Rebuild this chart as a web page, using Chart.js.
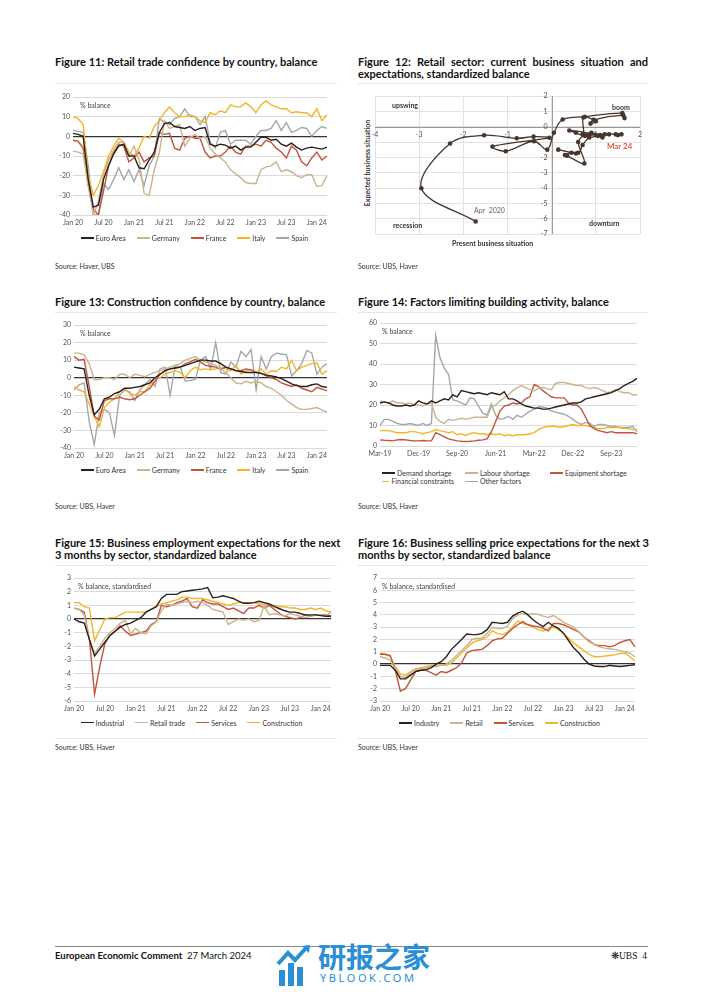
<!DOCTYPE html>
<html>
<head>
<meta charset="utf-8">
<script src="https://cdn.jsdelivr.net/npm/chart.js@4.4.1/dist/chart.umd.min.js"></script>
<style>
  body { margin: 0; background: #fff; }
  #page { position: relative; width: 702px; height: 992px; overflow: hidden; font-family: Lato, 'Open Sans', sans-serif; color: #222; }
  canvas { position: absolute; }
  .title { position: absolute; font-weight: 700; white-space: nowrap; color: #111; line-height: 12.6px; font-size: 10px; }
  .title .j { text-align: justify; text-align-last: justify; }
  .sep { position: absolute; height: 1px; background: #e6e6e6; }
  .src { position: absolute; font-size: 7px; color: #333; line-height: 8px; }
  .note { position: absolute; font-size: 7px; color: #444; line-height: 8px; white-space: nowrap; }
  .q { position: absolute; font-size: 7px; font-weight: 700; color: #333; line-height: 8px; white-space: nowrap; }
  .leg { position: absolute; width: 400px; display: flex; justify-content: center; font-size: 7px; color: #333; line-height: 8px; white-space: nowrap; }
  .leg span, .leg4 span { display: flex; align-items: center; margin-right: 11px; }
  .leg i, .leg4 i { display: inline-block; width: 13px; height: 1.6px; margin-right: 2px; }
  .leg4 { position: absolute; display: grid; grid-template-columns: 83px 85px auto; font-size: 7px; color: #333; line-height: 8.4px; white-space: nowrap; }
</style>
</head>
<body>
<div id="page">
  <!-- titles -->
  <div class="title" id="t11" style="left:55px;top:55.5px">Figure 11: Retail trade confidence by country, balance</div>
  <div class="title" style="left:358px;top:55.5px;width:290px">
    <div class="j">Figure 12: Retail sector: current business situation and</div>
    <div>expectations, standardized balance</div>
  </div>
  <div class="title" style="left:55px;top:296.4px">Figure 13: Construction confidence by country, balance</div>
  <div class="title" style="left:358px;top:296.4px">Figure 14: Factors limiting building activity, balance</div>
  <div class="title" style="left:55px;top:536.5px">
    <div>Figure 15: Business employment expectations for the next</div>
    <div>3 months by sector, standardized balance</div>
  </div>
  <div class="title" style="left:358px;top:536.5px">
    <div>Figure 16: Business selling price expectations for the next 3</div>
    <div>months by sector, standardized balance</div>
  </div>

  <div class="sep" style="left:55px;top:83px;width:282px"></div>
  <div class="sep" style="left:358px;top:83px;width:290px"></div>
  <div class="sep" style="left:55px;top:312px;width:282px"></div>
  <div class="sep" style="left:358px;top:312px;width:290px"></div>
  <div class="sep" style="left:55px;top:565px;width:282px"></div>
  <div class="sep" style="left:358px;top:565px;width:290px"></div>
  <div class="sep" style="left:55px;top:738px;width:282px"></div>
  <div class="sep" style="left:358px;top:738px;width:290px"></div>

  <canvas id="c11"></canvas>
  <canvas id="c12"></canvas>
  <canvas id="c13"></canvas>
  <canvas id="c14"></canvas>
  <canvas id="c15"></canvas>
  <canvas id="c16"></canvas>

  <div class="note" style="left:80px;top:101px">% balance</div>
  <div class="note" style="left:80px;top:329px">% balance</div>
  <div class="note" style="left:382px;top:327px">% balance</div>
  <div class="note" style="left:78px;top:582px">% balance, standardised</div>
  <div class="note" style="left:382px;top:582px">% balance, standardised</div>

  <!-- figure 12 annotations -->
  <div class="q" style="left:392px;top:101px">upswing</div>
  <div class="q" style="left:612px;top:103px">boom</div>
  <div class="q" style="left:393px;top:221px">recession</div>
  <div class="q" style="left:589px;top:219px">downturn</div>
  <div class="note" style="left:474px;top:206px;color:#666">Apr &nbsp;2020</div>
  <div class="note" style="left:607px;top:142px;color:#e2281c;font-size:8px;line-height:9px">Mar 24</div>
  <div class="q" style="left:452px;top:239px">Present business situation</div>
  <div class="q" style="left:367px;top:163px;transform:translate(-50%,-50%) rotate(-90deg)">Expected business situation</div>

  <div class="leg" id="l11" style="left:0px;top:234px"></div>
  <div class="leg" id="l13" style="left:0px;top:466px"></div>
  <div class="leg4" id="l14" style="left:382px;top:469px"></div>
  <div class="leg" id="l15" style="left:-3px;top:718.5px"></div>
  <div class="leg" id="l16" style="left:305px;top:719px"></div>

  <div class="src" style="left:55px;top:262px">Source: Haver, UBS</div>
  <div class="src" style="left:358px;top:262px">Source: UBS, Haver</div>
  <div class="src" style="left:55px;top:502px">Source: UBS, Haver</div>
  <div class="src" style="left:358px;top:502px">Source: UBS, Haver</div>
  <div class="src" style="left:55px;top:743px">Source: UBS, Haver</div>
  <div class="src" style="left:358px;top:743px">Source: UBS, Haver</div>

  <!-- footer -->
  <div style="position:absolute;left:55px;top:946px;width:593px;height:1px;background:#8a8a8a"></div>
  <div style="position:absolute;left:55px;top:951px;font-size:9.5px;line-height:10px;white-space:nowrap;color:#111"><b>European Economic Comment</b>&nbsp;&nbsp;27 March 2024</div>
  <div style="position:absolute;left:611px;top:951px;font-size:9.5px;line-height:10px;white-space:nowrap;color:#111;font-family:'Liberation Serif',serif">&#10059;UBS&nbsp;&nbsp;4</div>
  <svg style="position:absolute;left:276px;top:944px" width="38" height="42" viewBox="0 0 38 42">
    <path d="M2 20 L12 9 L19 16 L31 3" stroke="#2a8fd4" stroke-width="4" fill="none"/>
    <path d="M26 2 L34 1 L33 9 Z" fill="#2a8fd4"/>
    <rect x="3" y="26" width="6" height="16" fill="#2a8fd4"/>
    <rect x="12" y="19" width="6" height="23" fill="#2a8fd4"/>
    <rect x="21" y="23" width="6" height="19" fill="#2a8fd4"/>
  </svg>
  <div style="position:absolute;left:318px;top:940px;font-size:28px;line-height:32px;font-weight:700;color:#2a8fd4;font-family:'Noto Sans CJK SC',sans-serif;white-space:nowrap">研报之家</div>
  <div style="position:absolute;left:320px;top:972px;font-size:11px;line-height:12px;letter-spacing:2.6px;color:#2a8fd4;font-family:'Noto Sans',sans-serif;white-space:nowrap">YBLOOK.COM</div>
</div>

<script>
// ---- colours
const C_BLACK = '#2a211e';
const C_TAN = '#c9b48f';
const C_RED = '#c2553a';
const C_GOLD = '#f2b52a';
const C_GREY = '#a4a7aa';

// ---- tick labels
const halfYears = ['Jan 20', 'Jul 20', 'Jan 21', 'Jul 21', 'Jan 22', 'Jul 22', 'Jan 23', 'Jul 23', 'Jan 24'];
const ticks14 = ['Mar-19', 'Dec-19', 'Sep-20', 'Jun-21', 'Mar-22', 'Dec-22', 'Sep-23'];

// ---- Figure 11: retail trade confidence (Jan 20 - Mar 24)
const ea11 = [1.5,1,0,-22,-36,-35,-22,-15,-9,-5, -4,-10,-10,-16,-16.5,-12,-8,2,6.5,7, 5,4.5,4,5,3,4,4.5,-4,-5,-4, -4.5,-6,-5,-7,-5.5,-5.5,-3,-0.5,-0.5,-2, -1.5,-4,-5,-3.5,-5.5,-7,-6,-5.5,-6,-6.5, -5.5];
const de11 = [-7.5,-8,-9,-25,-40,-33,-20,-12,-7,-3, -3,-10,-5,-12,-29,-30,-17,-8,8,4, 5,6,-5,-1,1,-1,0,-6,-9,-11, -13,-17,-19,-21,-23.5,-24,-24,-17,-15.5,-15, -13,-18,-17,-18,-20,-21,-19.5,-19.5,-25.5,-25, -20];
const fr11 = [-2,-2.5,-6,-25,-37,-40,-28,-15,-8,-4, -5,-13,-11,-8,-13,-11,-10,2,1,1.5, -6,-7,-1,0,-1,-1,-8,-11,-10,-10, -8,-5,-8,-9,-5,-5,-4,-5,-2,-3, -6,-8,-11,-5,-7,-13,-15,-11,-8,-12, -10];
const it11 = [10,9,6,-20,-30,-25,-18,-10,-5,-1, -3,-8,-10,-6,0,-1,5,8,12,15, 12,10,10,11,10,8,7,12,11,13, 12,16,15,15,17,15,12,16,18,16, 15,14,14,12,12.5,12,12,10,14,8, 11];
const es11 = [3,2.5,2,-15,-40,-40,-24,-27,-22,-16, -22,-17,-23,-17,-25,-15,-10,9,7,6, 9,10,14,10,10,6,10,-3,-6,2, 3,-4,-2,-2,-2,-4,0,3,3,4, 8,3,7,2,3,4.5,4,0,3,5, 4];

// ---- Figure 12: retail present vs expected situation (Apr 2020 - Mar 24)
const pres12 = [-1.72,-2.95,-2.30,-1.53,-0.79,-0.41,-0.05,-1.34,-1.04,-0.4, -0.1,0.05,0.25,0.75,1.6,1.65,1.62,0.95,0.88,1.0, 0.72,0.72,0.6,0.74,0.35,0.3,0.45,0.55,0.15,0.6, 0.7,0.85,0.4,0.55,0.75,0.9,1.0,0.7,0.85,1.1, 1.3,1.05,0.9,1.15,1.2,1.45,1.5,1.58];
const exp12 = [-6.18,-4.02,-1.10,-0.56,-0.76,-0.65,-0.72,-1.30,-1.60,-0.95, -1.5,-0.4,0.47,0.65,0.88,0.56,0.75,0.45,0.2,0.35, 0.6,-0.5,-1.0,-2.4,-1.9,-1.85,-1.7,-1.75,-1.5,-1.7, -1.2,-0.5,-0.25,-0.4,-0.6,-0.45,-0.55,-0.5,-0.7,-0.55, -0.5,-0.6,-0.4,-0.7,-0.5,-0.5,-0.55,-0.5];
const xTicks12 = [-4, -3, -2, -1, 1, 2];
const yTicks12 = [2, 1, 0, -2, -3, -4, -5, -6, -7];

// ---- Figure 13: construction confidence (Jan 20 - Mar 24)
const ea13 = [6,5.5,5,-10,-21,-18,-12,-11,-9,-8, -6,-6,-5.5,-5,-4,-3,0,2,4,5, 5.5,6,7,8,9,10,10,9.5,9.5,8, 6,5,4,3.5,3,3,3,2.5,1.5,1, 0.5,-0.5,-2,-3.5,-4.5,-5,-5,-4,-3.5,-5, -5.5];
const de13 = [14,14,13,8,-1,-1,0,0,-1,2, 2,0,2,1.5,0.5,2,3,4,5,6, 7,8,10,11,12,10,9,8,7,5, 3,0,-3,-3.5,-2,-3,-2,-3,-5,-6, -8,-10,-13,-15,-17,-18,-18,-17.5,-17,-18.5, -19.5];
const fr13 = [12,10,10.5,-5,-22,-24,-13,-12,-12,-11, -12,-12.5,-12,-10,-8,-6,-2,2,4,5, 5.5,6,8,9,10.5,9,7,6.5,6,5, 6,5,4,4,5,4.5,3,2.5,1,0, -1,-3,-4,-5,-4,-6,-7,-8,-5.5,-6.5, -7.5];
const it13 = [-5,-7,-8,-15,-22,-28,-17,-14,-12,-8, -6,-9,-10,-8,-8,-4,0,0,2,3, 4,3,0,4,6,4.5,5,4.5,5,5.5, 5,4,7,2,4,4.5,3,5,2,4, 3.5,6,5,10,4,6,7,8,8.5,2, 4];
const es13 = [-7,-4,-3,-25,-38,-20,-18,-20,-33,-10, -7,-8,-13,-7,-4,-1,-5,5,6,-10, 7,6,-2,-1.5,-1,10,12,5,20,3, 2,9,6,15,12,16,-7,12,5,12, 14,13.5,13,1,4,8,15.5,14,2,6, 8];

// ---- Figure 14: factors limiting building activity (Mar-19 - Mar-24)
const dem14 = [21,21.5,21,20,19.5,19.5,20,19.5,20,22, 21,20.5,22,21,22,23,22.5,25,24,27, 26.5,26,25.5,26,25.5,25,26,25.5,25,26.5, 23,23,22,20.5,19.5,19,18.5,18.5,18,18, 18.5,19,19.5,20,20.5,21,21,21.5,23,23.5, 24,24.5,25,25.5,26,27,28,29.5,30.5,31.5, 33];
const lab14 = [22,21.5,21,22,21,21,20.5,21,20,20, 19.5,20.5,21,14,12,11,13,12.5,13,13.5, 13,13.5,14,14,14,14,19,20,22,23.5, 25,27,28.5,29.5,28.5,27.5,27,28,28.5,28, 27.5,30.5,31,31,30.5,30,29.5,29.5,28.5,28, 28.5,28,27,26,26.5,27.5,26.5,26,26,25, 25];
const eqp14 = [3,2.8,2.7,2.5,3,3.2,3,2.7,2.5,2.5, 2.7,2.5,2.5,6.5,5.5,4.5,3.5,3,2.5,2.3, 2.2,2.3,2.5,2.8,3,3.5,7,12,17,19.5, 20,21,20.5,21,23,24,30,29,27,25.5, 24,23.5,23.5,23.5,21,20,20,18,14,10, 8.5,7.5,7,6.5,7,6.5,6.5,6.5,6.5,6.5, 6];
const fin14 = [7.5,7.5,7.5,7,6.5,6.5,6.5,7,7,6.5, 6,6.5,7,8,7.5,7,6.5,7,5.5,6, 5,6,6.5,6,6,5.5,6,5.5,6,5, 5.5,5,5.5,5.5,5.5,6,6.5,8,9,9.5, 9.5,9.5,9,9.5,10,10.5,10,10,10,9.5, 9,8.5,8.5,9,9,9,9,8.5,8.5,8, 8];
const oth14 = [10,13,13,12,11,10.5,10.5,11,10.5,10, 11,10,11,54,43,38,35,22.5,22,21, 20,23.5,23,19.5,16,15,20.5,15,13,13.5, 14.5,13,15,14,15.5,17,18,19,19,18.5, 17,16.5,16,15.5,14.5,13,11.5,10.5,11.5,11, 9.5,10.5,10.5,10,9.5,9.5,9,9,9,9.5, 7];

// ---- Figure 15: employment expectations (Jan 20 - Mar 24)
const ind15 = [0,-0.2,-0.3,-1.5,-2.7,-2.2,-1.7,-1.2,-0.9,-0.6, -0.4,-0.3,-0.1,0.1,0.5,0.7,0.9,1.5,1.8,1.8, 1.8,2.0,2.05,2.1,2.15,2.2,2.3,1.55,1.6,1.7, 1.6,1.5,1.3,1.15,1.15,1.2,1.3,1.2,1.1,0.9, 0.75,0.6,0.5,0.5,0.4,0.3,0.3,0.3,0.25,0.2, 0.2];
const ret15 = [0.8,0.7,0.3,-1.5,-2.5,-2,-1.4,-1.0,-0.7,-0.3, -0.1,-1.1,-0.7,-1.0,-1.1,-0.5,-0.2,0.6,1.1,1.0, 1.1,1.2,1.3,1.2,1.3,1.2,1.0,0.7,0.6,0.5, -0.4,-0.2,0.0,-0.1,0.0,-0.2,-0.1,1.0,0.3,0.4, 0.3,0.2,0.4,0.3,0.2,0.1,0.2,0.3,0.3,0.2, 0.5];
const ser15 = [0.8,0.7,0.5,-1.5,-5.5,-3.5,-1.8,-1.2,-0.9,-0.5, -0.9,-1.2,-1.1,-1.0,-0.9,-0.4,-0.2,1.0,0.9,1.0, 1.2,1.3,1.5,0.9,0.8,1.4,1.2,1.1,1.1,0.9, 0.7,0.8,0.6,0.4,0.8,0.8,1.0,0.8,1.0,0.7, 0.4,0.2,0.1,0.0,0.1,0.3,0.2,0.3,0.3,0.3, 0.2];
const con15 = [1.2,1.2,0.9,0.8,-1.6,-0.8,0.0,0.1,0.1,0.3, 0.5,0.5,0.5,0.5,0.5,0.7,0.9,1.1,1.2,1.3, 1.4,1.6,1.6,1.5,1.5,1.5,1.4,1.3,1.2,1.1, 1.0,1.1,1.2,1.2,1.2,1.2,1.1,1.1,1.0,1.0, 0.9,0.9,0.8,0.8,0.7,0.7,0.8,0.7,0.8,0.6, 0.5];

// ---- Figure 16: selling price expectations (Jan 20 - Mar 24)
const ind16 = [-0.1,-0.1,-0.1,-0.5,-1.2,-1.2,-0.9,-0.6,-0.5,-0.45, -0.3,0.0,0.2,0.6,1.2,1.6,2.0,2.45,2.4,2.4, 2.5,2.8,3.4,3.35,3.3,3.4,3.9,4.15,4.3,4.0, 3.6,3.3,3.05,3.4,3.1,2.9,2.5,1.9,1.3,0.9, 0.4,0.0,-0.15,-0.2,-0.2,-0.1,-0.15,-0.2,-0.15,-0.1, -0.05];
const ret16 = [0.6,0.5,0.3,-0.4,-1.0,-1.1,-0.7,-0.4,-0.4,-0.3, -0.2,-0.2,-0.1,0.0,0.3,0.7,1.1,1.5,2.0,2.1, 2.1,2.5,3.0,2.9,2.9,3.1,3.7,4.0,4.1,4.05, 4.1,4.05,3.9,3.8,3.95,3.7,3.4,3.2,3.0,2.6, 2.2,1.8,1.6,1.4,1.3,1.25,1.2,1.1,1.0,0.9, 0.6];
const ser16 = [0.8,0.8,0.7,-0.5,-2.2,-2.0,-1.3,-0.6,-0.5,-0.5, -0.7,-0.9,-0.6,-0.7,-0.5,-0.3,0.1,0.9,1.1,1.15, 1.2,1.5,1.9,2.05,2.1,2.5,2.9,3.2,3.45,3.2, 3.1,3.05,2.9,2.7,3.3,3.3,3.2,3.0,2.8,2.6, 2.2,1.9,1.6,1.5,1.5,1.4,1.5,1.75,1.9,2.0, 1.4];
const con16 = [0.9,0.8,0.6,-0.2,-0.8,-0.9,-0.6,-0.4,-0.3,-0.2, -0.1,-0.1,-0.1,-0.1,0.1,0.5,0.9,1.3,1.7,1.9, 2.0,2.2,2.7,2.5,2.4,2.6,3.0,3.5,3.3,3.2, 3.0,2.8,2.7,2.9,3.0,2.8,2.5,2.1,1.7,1.4, 1.1,0.8,0.6,0.6,0.65,0.7,0.75,0.85,0.9,0.6, 0.25];

const tickFont = { family: 'Lato', size: 7 };
const tickColor = '#555';

// fit title font so figure 11 title spans the same width as the original
(function fitTitles() {
  const t = document.getElementById('t11');
  t.style.display = 'inline-block';
  const w = t.getBoundingClientRect().width;
  const fs = 10 * 263 / w;
  document.querySelectorAll('.title').forEach(e => { e.style.fontSize = fs + 'px'; });
})();

function placeCanvas(cv, plot, pad) {
  const W = Math.round(plot.r - plot.l + pad.l + pad.r);
  const H = Math.round(plot.b - plot.t + pad.t + pad.b);
  cv.width = W; cv.height = H;
  cv.style.width = W + 'px'; cv.style.height = H + 'px';
  cv.style.left = (plot.l - pad.l) + 'px';
  cv.style.top = (plot.t - pad.t) + 'px';
}

function lineChart(id, plot, series, min, max, step, tickLabels, every, zeroDark) {
  const pad = { l: 26, t: 8, r: 8, b: 18 };
  const cv = document.getElementById(id);
  placeCanvas(cv, plot, pad);
  const n = series[0].data.length;
  return new Chart(cv, {
    type: 'line',
    data: {
      labels: Array.from({ length: n }, (_, i) => i),
      datasets: series.map(s => ({
        label: s.name, data: s.data, borderColor: s.color, borderWidth: 1.4,
        pointRadius: 0, tension: 0, fill: false
      }))
    },
    options: {
      responsive: false, animation: false, devicePixelRatio: 1,
      layout: { padding: { left: 0, right: pad.r, top: pad.t, bottom: 0 } },
      plugins: { legend: { display: false }, tooltip: { enabled: false } },
      scales: {
        x: {
          offset: false,
          grid: { display: false, drawTicks: false },
          border: { display: false },
          ticks: {
            autoSkip: false, maxRotation: 0, padding: 4, color: tickColor, font: tickFont,
            callback: (v, i) => (i % every === 0 ? tickLabels[i / every] : null)
          },
          afterFit: s => { s.height = pad.b; }
        },
        y: {
          min, max,
          grid: {
            drawTicks: false,
            color: c => (zeroDark && c.tick.value === 0 ? '#333' : '#d6d6d6'),
            lineWidth: c => (zeroDark && c.tick.value === 0 ? 1.3 : 0.9)
          },
          border: { display: false },
          ticks: { stepSize: step, padding: 3, color: tickColor, font: tickFont },
          afterFit: s => { s.width = pad.l; }
        }
      }
    }
  });
}

function legend(id, series) {
  document.getElementById(id).innerHTML = series
    .map(s => `<span><i style="background:${s.color}"></i>${s.name}</span>`).join('');
}

// Figure 11
const s11 = [
  { name: 'Euro Area', data: ea11, color: C_BLACK },
  { name: 'Germany', data: de11, color: C_TAN },
  { name: 'France', data: fr11, color: C_RED },
  { name: 'Italy', data: it11, color: C_GOLD },
  { name: 'Spain', data: es11, color: C_GREY }
];
lineChart('c11', { l: 73, r: 327, t: 97, b: 215 }, s11, -40, 20, 10, halfYears, 6, true);
legend('l11', s11);

// Figure 13
const s13 = [
  { name: 'Euro Area', data: ea13, color: C_BLACK },
  { name: 'Germany', data: de13, color: C_TAN },
  { name: 'France', data: fr13, color: C_RED },
  { name: 'Italy', data: it13, color: C_GOLD },
  { name: 'Spain', data: es13, color: C_GREY }
];
lineChart('c13', { l: 74, r: 327, t: 325, b: 448 }, s13, -40, 30, 10, halfYears, 6, true);
legend('l13', s13);

// Figure 14
const s14 = [
  { name: 'Demand shortage', data: dem14, color: C_BLACK },
  { name: 'Labour shortage', data: lab14, color: C_TAN },
  { name: 'Equipment shortage', data: eqp14, color: C_RED },
  { name: 'Financial constraints', data: fin14, color: C_GOLD },
  { name: 'Other factors', data: oth14, color: C_GREY }
];
lineChart('c14', { l: 380, r: 637, t: 323, b: 446 }, s14, 0, 60, 10, ticks14, 9, false);
legend('l14', s14);

// Figure 15
const s15 = [
  { name: 'Industrial', data: ind15, color: C_BLACK },
  { name: 'Retail trade', data: ret15, color: C_TAN },
  { name: 'Services', data: ser15, color: C_RED },
  { name: 'Construction', data: con15, color: C_GOLD }
];
lineChart('c15', { l: 74, r: 331, t: 578, b: 701 }, s15, -6, 3, 1, halfYears, 6, true);
legend('l15', s15);

// Figure 16
const s16 = [
  { name: 'Industry', data: ind16, color: C_BLACK },
  { name: 'Retail', data: ret16, color: C_TAN },
  { name: 'Services', data: ser16, color: C_RED },
  { name: 'Construction', data: con16, color: C_GOLD }
];
lineChart('c16', { l: 380, r: 635, t: 578, b: 701 }, s16, -3, 7, 1, halfYears, 6, true);
legend('l16', s16);

// Figure 12: scatter path with axes crossing at zero
const axes12 = {
  id: 'axes12',
  beforeDatasetsDraw(chart) {
    const { ctx, chartArea: a } = chart;
    const x = chart.scales.x, y = chart.scales.y;
    const x0 = Math.round(x.getPixelForValue(0)) + 0.5;
    const y0 = Math.round(y.getPixelForValue(0)) + 0.5;
    ctx.save();
    ctx.strokeStyle = '#9a9a9a';
    ctx.lineWidth = 1;
    ctx.beginPath();
    ctx.moveTo(a.left, y0); ctx.lineTo(a.right, y0);
    ctx.moveTo(x0, a.top); ctx.lineTo(x0, a.bottom);
    ctx.stroke();
    ctx.fillStyle = tickColor;
    ctx.font = '7px Lato';
    ctx.textAlign = 'center'; ctx.textBaseline = 'top';
    xTicks12.forEach(v => ctx.fillText(String(v), x.getPixelForValue(v), y0 + 4));
    ctx.textAlign = 'right'; ctx.textBaseline = 'middle';
    yTicks12.forEach(v => ctx.fillText(String(v), x0 - 5, y.getPixelForValue(v)));
    ctx.restore();
  }
};
(function () {
  const pad = { l: 6, t: 6, r: 6, b: 6 };
  const cv = document.getElementById('c12');
  placeCanvas(cv, { l: 377, r: 638, t: 98, b: 232 }, pad);
  new Chart(cv, {
    type: 'scatter',
    data: {
      datasets: [{
        data: pres12.map((v, i) => ({ x: v, y: exp12[i] })),
        showLine: true, borderColor: '#46362d', borderWidth: 1.3,
        pointRadius: 2.3, pointBackgroundColor: '#46362d', pointBorderWidth: 0,
        tension: 0.35
      }]
    },
    options: {
      responsive: false, animation: false, devicePixelRatio: 1,
      layout: { padding: pad },
      plugins: { legend: { display: false }, tooltip: { enabled: false } },
      scales: {
        x: {
          min: -4, max: 2,
          ticks: { stepSize: 1, display: false },
          grid: { color: '#e2e2e2', drawTicks: false },
          border: { display: false },
          afterFit: s => { s.height = 0; }
        },
        y: {
          min: -7, max: 2,
          ticks: { stepSize: 1, display: false },
          grid: { color: '#e2e2e2', drawTicks: false },
          border: { display: false },
          afterFit: s => { s.width = 0; }
        }
      }
    },
    plugins: [axes12]
  });
})();
</script>
</body>
</html>
